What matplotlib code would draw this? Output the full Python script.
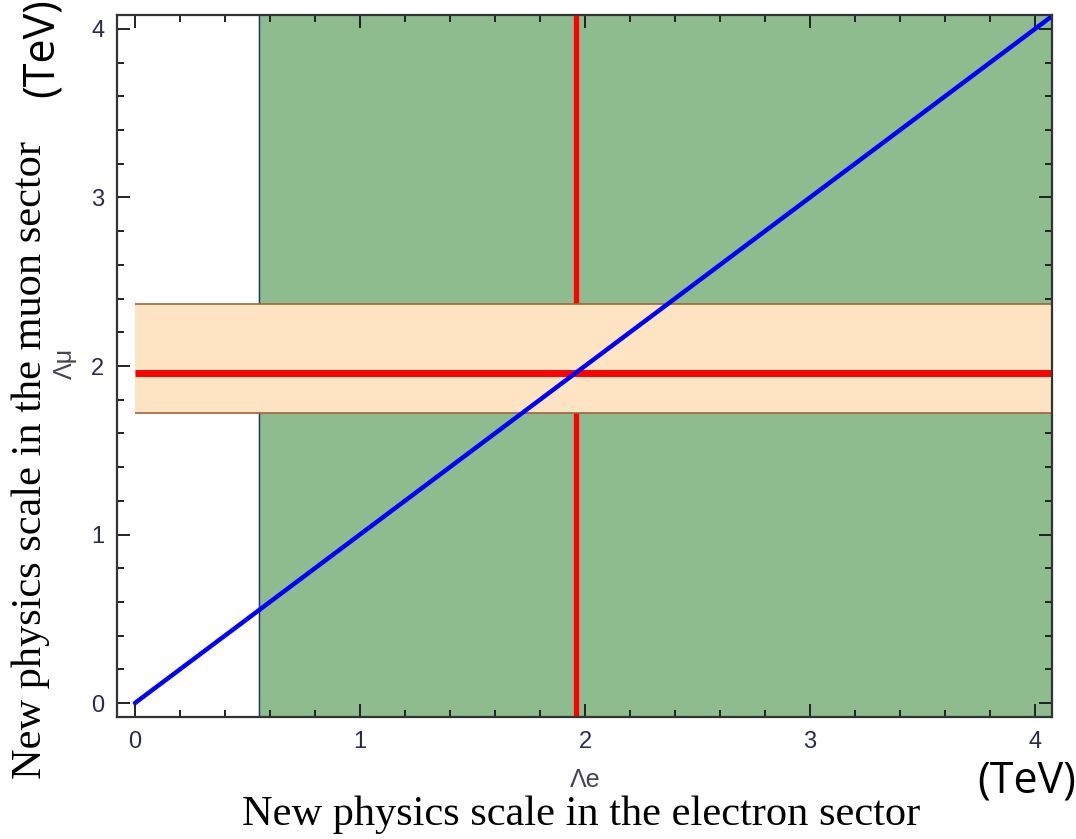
import matplotlib
matplotlib.use("Agg")
import matplotlib.pyplot as plt
import numpy as np
from matplotlib.ticker import MultipleLocator

# data
x_lim = [-0.08, 4.076]
y_lim = [-0.083, 4.083]
green_start = 0.55          # excluded region boundary for Lambda_e
band_low, band_high = 1.72, 2.368   # allowed band for Lambda_mu
red_x = 1.96                # central Lambda_e
red_y = 1.96                # central Lambda_mu
diag_x = [0.0, 4.08]
diag_y = [0.0, 4.08]
band_x = [0.0, 4.076]
xticks = [0, 1, 2, 3, 4]
yticks = [0, 1, 2, 3, 4]

plt.rcParams['font.family'] = ['Liberation Sans', 'DejaVu Sans']

fig = plt.figure(figsize=(10.76, 8.39), dpi=100)
ax = fig.add_axes([117/1076, 1 - 717/839, (1052-117)/1076, (717-15)/839])

ax.axvspan(green_start, x_lim[1], color='#8fbc8f', zorder=1)
ax.axvline(green_start, color='#28287a', lw=1.0, zorder=1.5)
ax.axvline(red_x, color='#ff0000', lw=3.8, zorder=2)
ax.fill_between(band_x, band_low, band_high, color='#ffe4c4', lw=0, zorder=3)
ax.hlines([band_low, band_high], band_x[0], band_x[1], color='#a0643c', lw=1.2, zorder=3.5)
ax.hlines(red_y, band_x[0], band_x[1], color='#ff0000', lw=5.0, zorder=4)
ax.plot(diag_x, diag_y, color='#0000ff', lw=3.2, zorder=5, solid_capstyle='round')

ax.set_xlim(x_lim)
ax.set_ylim(y_lim)
ax.set_xticks(xticks)
ax.set_yticks(yticks)
ax.xaxis.set_minor_locator(MultipleLocator(0.2))
ax.yaxis.set_minor_locator(MultipleLocator(0.2))
ax.tick_params(which='both', direction='in', top=True, right=True, width=1.4,
               color='#222222', labelcolor='#2a2a4a', labelsize=17)
ax.tick_params(axis='x', which='major', length=9.5, pad=10)
ax.tick_params(axis='y', which='major', length=9.5, pad=9)
ax.tick_params(which='minor', length=4.8)
for sp in ax.spines.values():
    sp.set_linewidth(1.6)
    sp.set_color('#333333')
    sp.set_zorder(6)

# small axis labels
fig.text(585/1076, 1 - 780/839, 'Λe', ha='center', va='center', fontsize=18,
         color='#444455')
fig.text(65/1076, 1 - 363/839, 'Λμ', ha='center', va='center', fontsize=18,
         color='#444455', rotation=90)

# big labels
fig.text(581/1076, 1 - 815/839, 'New physics scale in the electron sector',
         ha='center', va='center', fontsize=30.5, family='Liberation Serif')
fig.text(31/1076, 1 - 460/839, 'New physics scale in the muon sector',
         ha='center', va='center', fontsize=30.5, family='Liberation Serif', rotation=90)
fig.text(1027/1076, 1 - 781/839, '(TeV)', ha='center', va='center', fontsize=31,
         family='Open Sans')
fig.text(42/1076, 1 - 48/839, '(TeV)', ha='center', va='center', fontsize=31,
         family='Open Sans', rotation=90)

fig.savefig('out.png', dpi=100)
